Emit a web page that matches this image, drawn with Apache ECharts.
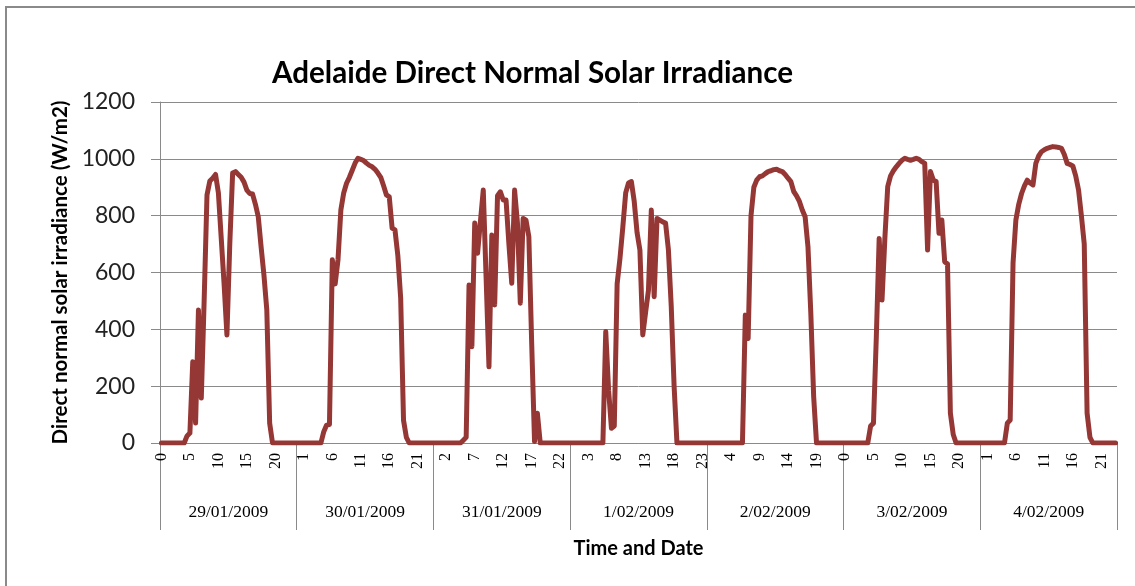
<!DOCTYPE html>
<html>
<head>
<meta charset="utf-8">
<script src="https://cdn.jsdelivr.net/npm/echarts@6/dist/echarts.min.js"></script>
<style>
    html, body { margin: 0; padding: 0; background: #fff; }
    #main { width: 1135px; height: 586px; }
</style>
</head>
<body>
<div id="main"></div>
<script>
// half-hourly readings, 48 per day
var dates = ['29/01/2009', '30/01/2009', '31/01/2009', '1/02/2009', '2/02/2009', '3/02/2009', '4/02/2009'];
var day29Jan = [0,0,0,0,0,0,0,0,0, 25,35,286,70,468,158,500,873,922,932,945, 880,720,560,380,700,950,955,945,935,918, 890,878,876,840,796,690,590,468,70,0, 0,0,0,0,0,0,0,0];
var day30Jan = [0,0,0,0,0,0,0,0,0, 40,63,65,645,560,645,820,880,914,935,960, 985,1002,998,994,985,977,972,963,950,935, 905,873,866,756,750,660,510,80,20,0, 0,0,0,0,0,0,0,0];
var day31Jan = [0,0,0,0,0,0,0,0,0,0, 10,20,556,339,774,668,780,890,580,268, 732,486,870,884,855,855,700,562,890,774, 492,790,784,726,350,5,105,0,0,0, 0,0,0,0,0,0,0,0];
var day1Feb = [0,0,0,0,0,0,0,0,0,0, 0,0,392,186,52,60,560,650,760,880, 915,920,850,740,679,380,460,538,820,515, 790,784,778,774,680,480,200,0,0,0, 0,0,0,0,0,0,0,0];
var day2Feb = [0,0,0,0,0,0,0,0,0,0, 0,0,0,450,368,800,900,925,937,940, 948,955,958,962,963,958,955,945,932,920, 885,870,850,820,796,691,456,163,0,0, 0,0,0,0,0,0,0,0];
var day3Feb = [0,0,0,0,0,0,0,0,0, 60,70,374,720,503,720,902,940,958,972,984, 995,1002,998,995,998,1002,998,990,984,679, 955,925,920,738,785,638,630,105,30,0, 0,0,0,0,0,0,0,0];
var day4Feb = [0,0,0,0,0,0,0,0,0, 70,81,633,785,840,878,905,925,915,908,984, 1010,1025,1032,1037,1040,1043,1042,1040,1037,1015, 984,980,975,940,890,800,700,105,20,0, 0,0,0,0,0,0,0,0];
var yTicks = [0, 200, 400, 600, 800, 1000, 1200];

var irradiance = [].concat(day29Jan, day30Jan, day31Jan, day1Feb, day2Feb, day3Feb, day4Feb);

// category for every half hour, labelled by date and hour
var times = [];
dates.forEach(function (d) {
    for (var i = 0; i < 48; i++) {
        times.push(d + ' ' + Math.floor(i / 2) + (i % 2 ? ':30' : ':00'));
    }
});

var gray = '#8a8a8a';
var myChart = echarts.init(document.getElementById('main'));
var option = {
    animation: false,
    title: {
        text: 'Adelaide Direct Normal Solar Irradiance',
        left: 267,
        top: 53,
        textStyle: {
            fontFamily: 'Lato',
            fontWeight: 'bold',
            fontSize: 29.6,
            color: '#000'
        }
    },
    graphic: [{
        type: 'rect',
        shape: { x: 6, y: 7, width: 1300, height: 700 },
        style: { fill: 'none', stroke: gray, lineWidth: 2 },
        silent: true
    }],
    grid: {
        left: 160,
        right: 18,
        top: 102,
        bottom: 143
    },
    xAxis: [
        {
            type: 'category',
            boundaryGap: true,
            data: times,
            axisLine: { lineStyle: { color: gray, width: 1 } },
            axisTick: { show: false },
            axisLabel: {
                interval: 9,
                rotate: 90,
                margin: 10,
                fontFamily: 'Liberation Serif',
                fontSize: 16,
                color: '#000',
                formatter: function (v) {
                    return v.split(' ')[1].split(':')[0];
                }
            },
            splitLine: { show: false }
        },
        {
            type: 'category',
            position: 'bottom',
            boundaryGap: true,
            data: dates,
            axisLine: { show: false },
            axisTick: {
                show: true,
                interval: 0,
                length: 87,
                lineStyle: { color: gray, width: 1 }
            },
            axisLabel: {
                interval: 0,
                margin: 60,
                fontFamily: 'Liberation Serif',
                fontSize: 17.5,
                color: '#000'
            },
            name: 'Time and Date',
            nameLocation: 'middle',
            nameGap: 96,
            nameTextStyle: {
                fontFamily: 'Lato',
                fontWeight: 'bold',
                fontSize: 20,
                color: '#000'
            }
        }
    ],
    yAxis: {
        type: 'value',
        min: yTicks[0],
        max: yTicks[yTicks.length - 1],
        interval: 200,
        name: 'Direct normal solar irradiance (W/m2)',
        nameLocation: 'middle',
        nameGap: 84,
        nameTextStyle: {
            fontFamily: 'Lato',
            fontWeight: 'bold',
            fontSize: 20.5,
            color: '#000'
        },
        axisLine: { show: true, lineStyle: { color: gray, width: 1 } },
        axisTick: { show: true, length: 9, lineStyle: { color: gray } },
        axisLabel: {
            margin: 25,
            fontFamily: 'Lato',
            fontSize: 23,
            color: '#222',
            formatter: function (v) { return String(v); }
        },
        splitLine: { lineStyle: { color: gray, width: 1 } }
    },
    series: [{
        name: 'Direct normal solar irradiance',
        type: 'line',
        xAxisIndex: 0,
        data: irradiance,
        symbol: 'none',
        smooth: false,
        sampling: null,
        lineStyle: {
            color: '#953735',
            width: 5,
            join: 'round',
            cap: 'round'
        }
    }]
};
myChart.setOption(option);
</script>
</body>
</html>
